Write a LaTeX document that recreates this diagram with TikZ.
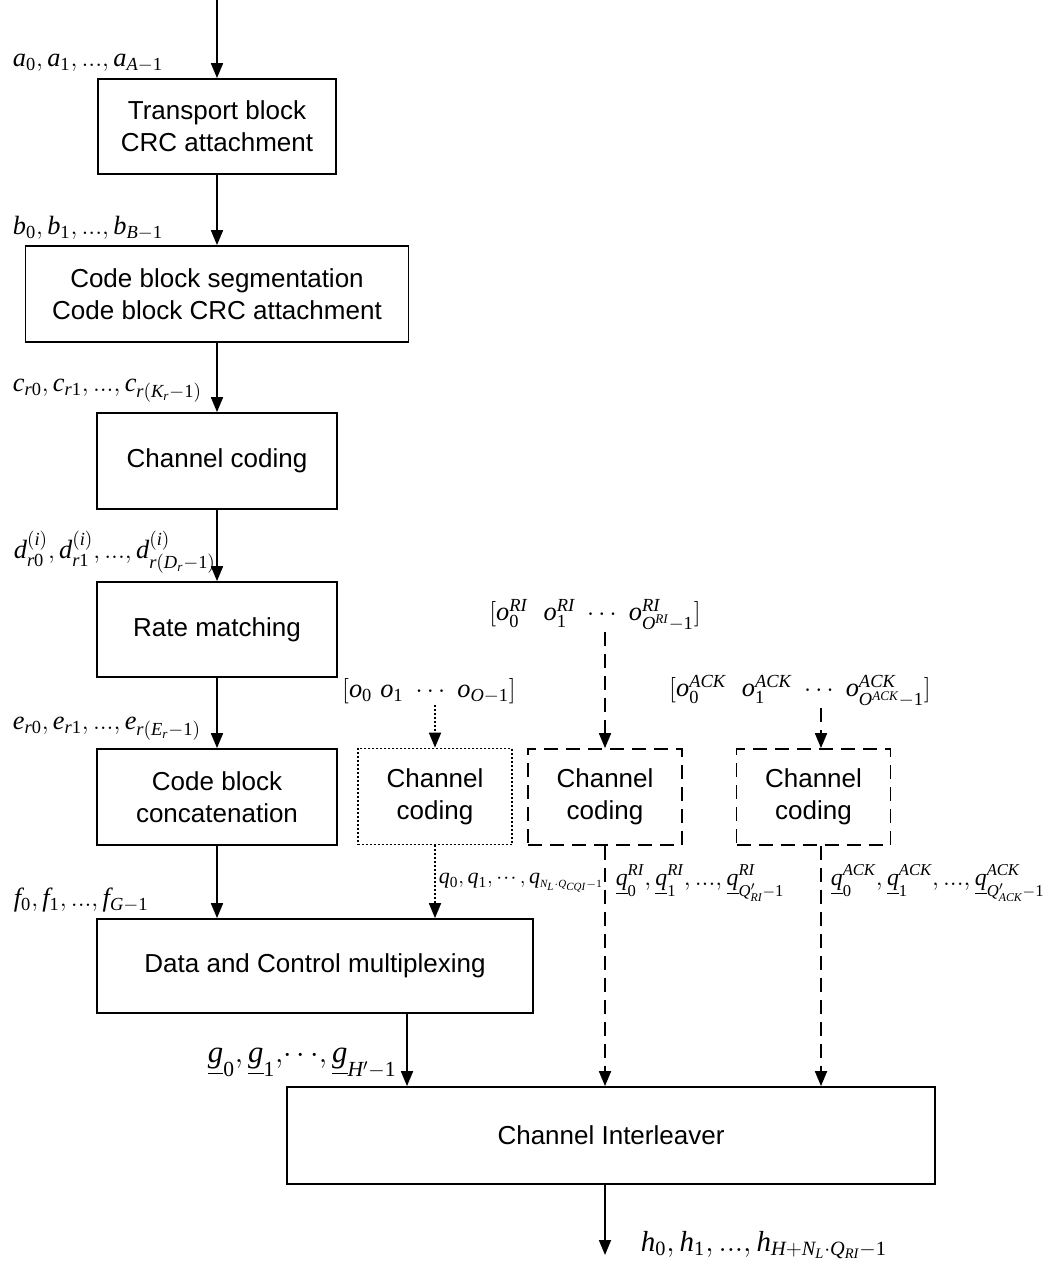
\documentclass[tikz,border=0pt]{standalone}
\usepackage[no-math]{fontspec}
\usepackage{amsmath}
\usetikzlibrary{arrows.meta}
\newfontfamily\blockfont{Liberation Sans}
\newfontfamily\seqfont{Liberation Serif}[NFSSFamily=libserif]
\DeclareSymbolFont{libit}{TU}{libserif}{m}{it}
\DeclareSymbolFont{librm}{TU}{libserif}{m}{n}
\newcount\lc
\AtBeginDocument{%
  \lc=`a \loop \Umathcode\lc=7 \symlibit\lc \ifnum\lc<`z \advance\lc 1 \repeat
  \lc=`A \loop \Umathcode\lc=7 \symlibit\lc \ifnum\lc<`Z \advance\lc 1 \repeat
  \lc=`0 \loop \Umathcode\lc=7 \symlibrm\lc \ifnum\lc<`9 \advance\lc 1 \repeat}
\newcommand{\tdots}{\mathinner{\cdotp\mkern-2mu\cdotp\mkern-2mu\cdotp}}

\begin{document}
\begin{tikzpicture}[line width=1pt, >={Triangle[length=0.3cm,width=0.24cm]},
  blk/.style={draw, align=center, inner sep=0pt, minimum width=4.8cm, minimum height=1.92cm,
    font=\blockfont\fontsize{14.8}{18.2}\selectfont},
  cqibox/.style={blk, dash pattern=on 0.04cm off 0.04cm, minimum width=3.08cm},
  ctlbox/.style={blk, dash pattern=on 0.28cm off 0.16cm, minimum width=3.08cm},
  dotcon/.style={dash pattern=on 0.04cm off 0.04cm},
  dashcon/.style={dash pattern=on 0.28cm off 0.16cm},
  lab/.style={inner sep=0pt, font=\fontsize{15}{18}\selectfont},
  qlab/.style={inner sep=0pt, font=\fontsize{13.5}{16}\selectfont},
  biglab/.style={inner sep=0pt, font=\fontsize{17.5}{21}\selectfont}]
%\draw[help lines] (0,0) grid (21,-26);
\useasboundingbox (0,0) rectangle (20.86,-25.26);
\node (tb) [blk, minimum width=4.76cm, minimum height=1.9cm] at (4.34,-2.53) {Transport block\\CRC attachment};
\node (seg) [blk, minimum width=7.66cm] at (4.34,-5.88) {Code block segmentation\\Code block CRC attachment};
\node (cc) [blk] at (4.34,-9.22) {Channel coding};
\node (rm) [blk, minimum height=1.9cm] at (4.34,-12.59) {Rate matching};
\node (cbc) [blk] at (4.34,-15.94) {Code block\\concatenation};
\node (mux) [blk, minimum width=8.72cm, minimum height=1.88cm] at (6.30,-19.32) {Data and Control multiplexing};
\node (il) [blk, minimum width=12.96cm, minimum height=1.94cm] at (12.22,-22.71) {Channel Interleaver};
\node (cqi) [cqibox] at (8.70,-15.93) {Channel\\coding};
\node (ri) [ctlbox] at (12.1,-15.94) {Channel\\coding};
\node (ack) [ctlbox] at (16.27,-15.94) {Channel\\coding};
\coordinate (in) at (4.34,0);
\coordinate (out) at (12.1,-25.1);
\coordinate (gx) at (8.14,0);
\coordinate (ackx) at (16.42,0);
% sequences
\node (a) [lab, anchor=west] at (0.24,-1.26) {$a_0 ,a_1 ,..., a_{A-1}$};
\node (b) [lab, anchor=west] at (0.24,-4.56) {$b_0 ,b_1 ,..., b_{B-1}$};
\node (c) [lab, anchor=west] at (0.24,-7.82) {$c_{r0} , c_{r1} ,..., c_{r(K_r-1)}$};
\node (d) [lab, anchor=west] at (0.26,-11.04) {$d_{r0}^{(i)} , d_{r1}^{(i)} ,..., d_{r(D_r-1)}^{(i)}$};
\node (e) [lab, anchor=west] at (0.24,-14.58) {$e_{r0} , e_{r1} ,..., e_{r(E_r-1)}$};
\node (f) [lab, anchor=west] at (0.26,-18.0) {$f_0 , f_1 ,..., f_{G-1}$};
\node (g) [biglab, anchor=west] at (4.14,-21.26) {$\underline{g}_0 ,\underline{g}_1 ,\!\cdots\!, \underline{g}_{H'-1}$};
\node (h) [biglab, anchor=west, font=\fontsize{16.5}{20}\selectfont] at (12.8,-24.9) {$h_0 ,h_1 ,...,h_{H+N_L\cdot Q_{RI}-1}$};
\node (olab) [lab] at (8.58,-13.82) {$[o_0\ o_1\ \cdots\ o_{O-1}]$};
\node (rilab) [lab] at (11.9,-12.3) {$[o_0^{RI}\ \ o_1^{RI}\ \cdots\ o_{O^{RI}-1}^{RI}]$};
\node (acklab) [lab] at (16.0,-13.82) {$[o_0^{ACK}\ \ o_1^{ACK}\ \cdots\ o_{O^{ACK}-1}^{ACK}]$};
\node (qcqi) [qlab, anchor=west, font=\fontsize{12.5}{15}\selectfont] at (8.76,-17.66) {$q_0,q_1,\tdots,q_{\scriptscriptstyle N_L\cdot Q_{CQI}-1}$};
\node (qri) [qlab, anchor=west] at (12.3,-17.66) {$\underline{q}_0^{RI},\underline{q}_1^{RI},...,\underline{q}_{Q'_{RI}-1}^{RI}$};
\node (qack) [qlab, anchor=west] at (16.6,-17.66) {$\underline{q}_0^{ACK},\underline{q}_1^{ACK},...,\underline{q}_{Q'_{ACK}-1}^{ACK}$};
\path[->]
(in) edge (tb)
(tb) edge (seg)
(seg) edge (cc)
(cc) edge (rm)
(rm) edge (cbc)
(cbc) edge (cbc.south |- mux.north)
(gx |- mux.south) edge (gx |- il.north)
(out |- il.south) edge (out);
\path[->, dotcon]
(cqi.north |- olab.south) edge (cqi)
(cqi) edge (cqi.south |- mux.north);
\path[->, dashcon]
(ri.north |- rilab.south) edge (ri)
(ri) edge (ri.south |- il.north)
(ackx |- acklab.south) edge (ackx |- ack.north)
(ackx |- ack.south) edge (ackx |- il.north);
\end{tikzpicture}
\end{document}
